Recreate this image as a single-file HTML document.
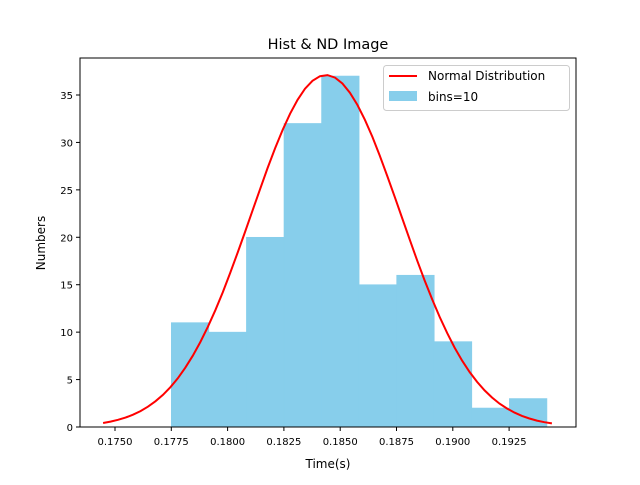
<!DOCTYPE html>
<html><head><meta charset="utf-8"><style>
body{margin:0;background:#fff;font-family:"Liberation Sans","DejaVu Sans",sans-serif;}
svg text{font-family:"DejaVu Sans","Liberation Sans",sans-serif;}
</style></head><body>
<svg id="c" width="640" height="480"></svg>
<script>
const binCounts=[11,10,20,32,37,15,16,9,2,3];
const binStart=0.17750, binEnd=0.19418;
const normMu=0.18437, normSigma=0.00331, normPeak=37.1;
const curveStart=0.17447, curveEnd=0.19440;
const xTicks=[0.1750,0.1775,0.1800,0.1825,0.1850,0.1875,0.1900,0.1925];
const yTicks=[0,5,10,15,20,25,30,35];

const L=80,R=576,T=58,B=427;
const sx=v=>115+(v-0.175)/0.0025*56.3;
const sy=v=>B-v*(332/35);
const svg=document.getElementById('c');
const NS='http://www.w3.org/2000/svg';
function mk(tag,at,parent){const e=document.createElementNS(NS,tag);for(const k in at)e.setAttribute(k,at[k]);(parent||svg).appendChild(e);return e;}

const w=(binEnd-binStart)/binCounts.length;
binCounts.forEach((c,i)=>{
 const x0=sx(binStart+i*w),x1=sx(binStart+(i+1)*w);
 const r=mk('rect',{x:x0,y:sy(c),width:x1-x0,height:B-sy(c),fill:'#87ceeb',stroke:'#87ceeb','stroke-width':0.6});
 
 
});
let d='';
for(let i=0;i<=60;i++){const v=curveStart+(curveEnd-curveStart)*i/60;
 const y=normPeak*Math.exp(-((v-normMu)**2)/(2*normSigma**2));
 d+=(i?'L':'M')+sx(v).toFixed(1)+' '+sy(y).toFixed(1);}
const p=mk('path',{d:d,fill:'none',stroke:'#ff0000','stroke-width':2});



const ax=mk('rect',{x:L,y:T,width:R-L,height:B-T,fill:'none',stroke:'#000','stroke-width':1});


xTicks.forEach(t=>{const x=sx(t);
 mk('line',{x1:x,x2:x,y1:B,y2:B+4,stroke:'#000'});
 const tx=mk('text',{x:x,y:B+18,'font-size':10,'text-anchor':'middle'});tx.textContent=t.toFixed(4);
 
 
});
yTicks.forEach(t=>{const y=sy(t);
 mk('line',{x1:L-4,x2:L,y1:y,y2:y,stroke:'#000'});
 const tx=mk('text',{x:L-7,y:y+4,'font-size':10,'text-anchor':'end'});tx.textContent=t;
 
 
});
</script>
<svg width="640" height="480" style="position:absolute;left:0;top:0">
<text x="328" y="49" font-size="14.5" text-anchor="middle">Hist &amp; ND Image</text>
<text x="328" y="468" font-size="12" text-anchor="middle">Time(s)</text>
<text x="45" y="243" font-size="12" text-anchor="middle" transform="rotate(-90 45 243)">Numbers</text>
<g>
<rect x="383.5" y="65.5" width="186" height="45" rx="3" fill="#fff" fill-opacity="0.8" stroke="#ccc"/>
<line x1="389" x2="417" y1="76" y2="76" stroke="#ff0000" stroke-width="2"/>
<text x="428" y="80" font-size="12">Normal Distribution</text>
<rect x="389" y="91" width="28" height="10" fill="#87ceeb"/>
<text x="428" y="101" font-size="12">bins=10</text>
</g>
</svg>
</body></html>
